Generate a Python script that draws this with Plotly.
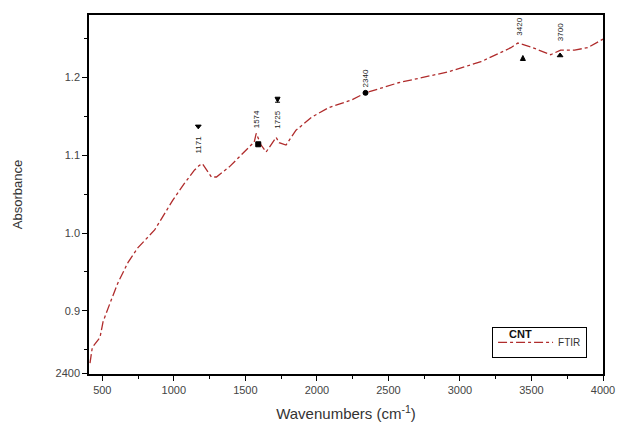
import plotly.graph_objects as go

wavenumber = [414, 430, 484, 496, 505, 554, 609, 679, 748, 866, 992, 1075, 1145, 1179, 1200,
              1263, 1298, 1388, 1527, 1562, 1576, 1610, 1645, 1715, 1736, 1784, 1854, 1965,
              2083, 2243, 2341, 2570, 2918, 3147, 3356, 3405, 3495, 3634, 3704, 3801, 3892, 3982, 4000]
absorbance = [0.833, 0.853, 0.866, 0.878, 0.886, 0.910, 0.936, 0.962, 0.981, 1.004, 1.042, 1.064,
              1.081, 1.087, 1.089, 1.072, 1.072, 1.085, 1.111, 1.117, 1.128, 1.113, 1.104, 1.123,
              1.116, 1.113, 1.132, 1.149, 1.161, 1.171, 1.180, 1.193, 1.207, 1.220, 1.238, 1.244,
              1.239, 1.229, 1.235, 1.235, 1.238, 1.248, 1.249]

peak_pos = [1171, 1574, 1725, 2340, 3420, 3700]
peak_labels = ["1171", "1574", "1725", "2340", "3420", "3700"]
peak_label_y = [1.114, 1.146, 1.145, 1.198, 1.265, 1.258]
marker_x = [1171, 1590, 1725, 2340, 3440, 3700]
marker_y = [1.137, 1.114, 1.168, 1.180, 1.228, 1.228]
marker_sym = ["triangle-down", "square", "arrow-bar-down", "circle", "arrow-up", "triangle-up"]

x_ticks = [500, 1000, 1500, 2000, 2500, 3000, 3500, 4000]
y_ticks = [0.82, 0.9, 1.0, 1.1, 1.2]
y_ticktext = ["2400", "0.9", "1.0", "1.1", "1.2"]

fig = go.Figure()
fig.add_trace(go.Scatter(x=wavenumber, y=absorbance, mode="lines", name="FTIR",
                         line=dict(color="#b02c2c", width=1.3, dash="dashdot")))
fig.add_trace(go.Scatter(x=marker_x, y=marker_y, mode="markers", showlegend=False,
                         marker=dict(symbol=marker_sym, size=5, color="black",
                                     line=dict(color="black", width=1))))

for xp, lab, ly in zip(peak_pos, peak_labels, peak_label_y):
    fig.add_annotation(x=xp, y=ly, text=lab, textangle=-90, showarrow=False,
                       font=dict(size=8, color="#222", family="Liberation Sans"))

fig.add_annotation(xref="paper", yref="paper", x=0.865, y=0.09, text="<b>CNT</b>",
                   showarrow=False, font=dict(size=11, color="#111", family="Liberation Sans"))

axis_common = dict(showline=True, linecolor="black", linewidth=1.5, mirror=True,
                   ticks="outside", ticklen=5, tickwidth=1.2, tickcolor="black",
                   showgrid=False, zeroline=False,
                   tickfont=dict(size=11, color="#444", family="Liberation Sans"))

fig.update_layout(
    width=627, height=442,
    margin=dict(l=89, r=21, t=15, b=68),
    paper_bgcolor="white", plot_bgcolor="white",
    xaxis=dict(range=[407, 4000], tickvals=x_ticks,
               minor=dict(ticks="outside", ticklen=3, tickcolor="black", dtick=250, tick0=250),
               title=dict(text="Wavenumbers (cm<sup>-1</sup>)", standoff=14,
                          font=dict(size=15, color="#333", family="Liberation Sans")),
               **axis_common),
    yaxis=dict(range=[0.819, 1.28], tickvals=y_ticks, ticktext=y_ticktext,
               minor=dict(ticks="outside", ticklen=3, tickcolor="black", dtick=0.1, tick0=0.85),
               title=dict(text="Absorbance", standoff=30,
                          font=dict(size=13, color="#333", family="Liberation Sans")),
               **axis_common),
    legend=dict(x=0.969, y=0.045, xanchor="right", yanchor="bottom",
                bordercolor="black", borderwidth=1, bgcolor="white",
                font=dict(size=10, color="#333", family="Liberation Sans"),
                itemwidth=55, tracegroupgap=0),
    showlegend=True,
)

fig.write_html("out.html")
